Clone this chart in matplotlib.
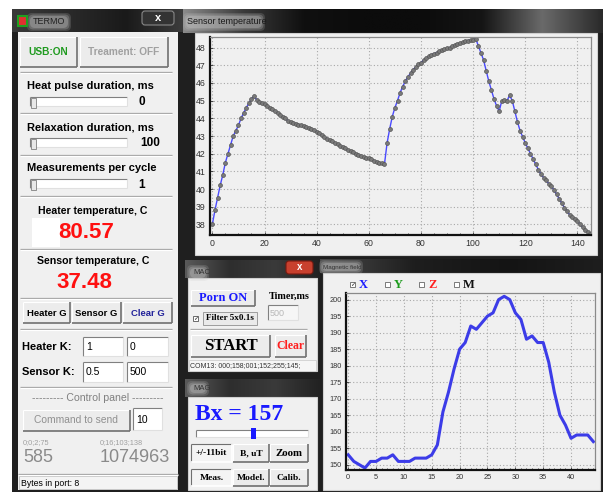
import matplotlib
matplotlib.use("Agg")
import numpy as np
import matplotlib.pyplot as plt
from matplotlib.patches import Rectangle, FancyBboxPatch
from matplotlib.colors import LinearSegmentedColormap
from matplotlib.ticker import MultipleLocator

W, H = 603, 492

# ---- chart data ----
sensor_temp = [38.0, 38.8, 39.5, 40.2, 40.8, 41.5, 42.0, 42.5, 43.0, 43.3,
               43.6, 44.0, 44.3, 44.6, 44.85, 45.1, 45.25, 45.05, 44.95, 44.85,
               44.8, 44.7, 44.6, 44.5, 44.4, 44.3, 44.2, 44.1, 44.0, 43.85,
               43.8, 43.75, 43.7, 43.65, 43.6, 43.55, 43.5, 43.45, 43.4, 43.35,
               43.25, 43.15, 43.05, 42.95, 42.85, 42.75, 42.7, 42.6, 42.55, 42.45,
               42.4, 42.3, 42.2, 42.15, 42.1, 42.0, 41.95, 41.85, 41.8, 41.75,
               41.75, 41.7, 41.6, 41.55, 41.5, 41.45, 41.4, 42.6, 43.4, 44.1,
               44.6, 45.0, 45.45, 45.8, 46.1, 46.35, 46.55, 46.75, 46.9, 47.05,
               47.15, 47.3, 47.4, 47.5, 47.6, 47.65, 47.72, 47.8, 47.85, 47.9,
               47.95, 48.0, 48.08, 48.15, 48.2, 48.25, 48.3, 48.35, 48.4, 48.42,
               48.45, 48.5, 48.1, 47.7, 47.3, 46.7, 46.1, 45.6, 45.1, 44.7,
               44.4, 45.0, 45.05, 45.0, 45.3, 45.0, 44.4, 43.8, 43.3, 42.95,
               42.6, 42.3, 42.0, 41.7, 41.4, 41.1, 40.85, 40.65, 40.5, 40.3,
               40.15, 39.95, 39.7, 39.45, 39.2, 38.95, 38.75, 38.55, 38.4, 38.3,
               38.2, 38.0, 37.85, 37.7, 37.55, 37.45]
sensor_x = list(range(len(sensor_temp)))
sensor_yticks = [38, 39, 40, 41, 42, 43, 44, 45, 46, 47, 48]
sensor_xticks = [0, 20, 40, 60, 80, 100, 120, 140]

mag_bx = [153, 151, 150, 149, 151, 151, 152, 152, 153, 151,
          151, 151, 152, 152, 152, 153, 156, 166, 172, 179,
          185, 187, 192, 191, 193, 195, 196, 200, 201, 200,
          196, 194, 188, 189, 187, 187, 181, 172, 165, 162,
          158, 159, 159, 159, 157]
mag_x = list(range(len(mag_bx)))
mag_yticks = [150, 155, 160, 165, 170, 175, 180, 185, 190, 195, 200]
mag_xticks = [0, 5, 10, 15, 20, 25, 30, 35, 40]
mag_channels = ["X", "Y", "Z", "M"]
mag_colors = ["#1a1aff", "#1a9a1a", "#ff2020", "#111111"]

SANS = "Liberation Sans"
SERIF = "Liberation Serif"
PANEL = "#f0f0f0"

fig = plt.figure(figsize=(W / 100, H / 100), dpi=100)
bg = fig.add_axes([0, 0, 1, 1])
bg.set_xlim(0, W)
bg.set_ylim(H, 0)
bg.axis("off")


def box(x0, y0, x1, y1, fc, ec="none", lw=0.8, z=1):
    bg.add_patch(Rectangle((x0, y0), x1 - x0, y1 - y0, fc=fc, ec=ec, lw=lw, zorder=z))


def line(x0, y0, x1, y1, c, lw=0.8, z=3):
    bg.plot([x0, x1], [y0, y1], color=c, lw=lw, zorder=z, solid_capstyle="butt")


def text(x, y, s, size, color="black", weight="normal", family=SANS, ha="left", va="center", z=5):
    bg.text(x, y, s, fontsize=size, color=color, fontweight=weight, family=family,
            ha=ha, va=va, zorder=z)


def button(x0, y0, x1, y1, pressed=False):
    box(x0, y0, x1, y1, "#f4f4f4" if pressed else "#ececec", z=2)
    hi, lo = ("#707070", "#ffffff") if pressed else ("#ffffff", "#707070")
    line(x0, y0, x1, y0, hi)
    line(x0, y0, x0, y1, hi)
    line(x0, y1, x1, y1, lo, lw=1.2)
    line(x1, y0, x1, y1, lo, lw=1.2)


def field(x0, y0, x1, y1, fc="white"):
    box(x0, y0, x1, y1, fc, z=2)
    line(x0, y0, x1, y0, "#808080")
    line(x0, y0, x0, y1, "#808080")
    line(x0, y1, x1, y1, "#e0e0e0")
    line(x1, y0, x1, y1, "#e0e0e0")


def sep(x0, x1, y):
    line(x0, y, x1, y, "#a0a0a0", lw=0.9)
    line(x0, y + 1.2, x1, y + 1.2, "#ffffff", lw=0.9)


def slider(x0, x1, y0, y1):
    field(x0, y0, x1, y1)
    box(x0 + 1, y0 + 1, x0 + 6, y1 + 2, "#e8e8e8", ec="#808080", lw=0.6, z=4)


def gradient(x0, x1, y0, y1, stops, z=1):
    cmap = LinearSegmentedColormap.from_list("g", stops)
    bg.imshow(np.linspace(0, 1, 256)[None, :], extent=(x0, x1, y1, y0), cmap=cmap,
              aspect="auto", zorder=z, interpolation="bilinear")


def glow(x0, y0, x1, y1):
    # soft light halo behind window titles
    for pad, a in [(3, 0.18), (1.5, 0.25), (0, 0.3)]:
        bg.add_patch(FancyBboxPatch((x0, y0), x1 - x0, y1 - y0,
                                    boxstyle=f"round,pad={pad},rounding_size=5",
                                    fc="#c8c8c8", ec="none", alpha=a, zorder=3))


# dark desktop / window frames
box(12, 9, W, H, "#1f1f1f", z=0)

# ================= TERMO window =================
gradient(12, 183, 9, 32, ["#3a3a3a", "#2a2a2a", "#1a1a1a", "#3c3c3c"])
glow(30, 16, 68, 28)
bg.add_patch(Rectangle((18, 16), 9, 10, fc="#e03030", ec="#20a020", lw=1.5, zorder=4))
text(33, 22, "TERMO", 6.5, color="#222222")
bg.add_patch(FancyBboxPatch((142, 11), 32, 14, boxstyle="round,pad=0,rounding_size=3",
                            fc="#333333", ec="#888888", lw=0.8, zorder=3))
text(158, 18, "x", 8, color="white", weight="bold", ha="center")

box(18, 32, 178, 490, PANEL, z=1)
button(20, 37, 77, 67)
button(80, 37, 168, 67)
text(48.5, 52, "USB:ON", 7.3, color="#1f9a1f", weight="bold", ha="center")
text(124, 52, "Treament: OFF", 7.3, color="#a0a0a0", weight="bold", ha="center")

sep(20, 172, 72)
text(27, 86, "Heat pulse duration, ms", 8, weight="bold")
slider(30, 127, 97, 106)
text(142, 102, "0", 8.5, weight="bold", ha="center")
sep(20, 172, 113)
text(27, 127, "Relaxation duration, ms", 8, weight="bold")
slider(30, 127, 138, 147)
text(160, 143, "100", 8.5, weight="bold", ha="right")
sep(20, 172, 155)
text(27, 168, "Measurements per cycle", 8, weight="bold")
slider(30, 127, 179, 188)
text(142, 185, "1", 8.5, weight="bold", ha="center")
sep(20, 172, 196)

text(93, 211, "Heater temperature, C", 7.6, weight="bold", ha="center")
box(32, 218, 60, 247, "white", z=1.5)
text(86, 232, "80.57", 16, color="#ff1010", weight="bold", ha="center")
sep(20, 172, 249)
text(93, 261, "Sensor temperature, C", 7.6, weight="bold", ha="center")
text(84, 283, "37.48", 16, color="#ff1010", weight="bold", ha="center")
sep(20, 172, 298)

for (x0, x1), lab, col in zip([(23, 70), (72, 121), (123, 172)],
                              ["Heater G", "Sensor G", "Clear G"],
                              ["black", "black", "#22229a"]):
    button(x0, 302, x1, 323)
    text((x0 + x1) / 2, 313, lab, 6.8, color=col, weight="bold", ha="center")
sep(20, 172, 329)

text(22, 347, "Heater K:", 8, weight="bold")
field(83, 337, 123, 356)
field(127, 337, 168, 356)
text(86, 347, "1", 7.5)
text(130, 347, "0", 7.5)
text(22, 372, "Sensor K:", 8, weight="bold")
field(83, 362, 123, 382)
field(127, 362, 168, 382)
text(86, 372, "0.5", 7.5)
text(130, 372, "500", 7.5)
sep(20, 172, 387)

text(98, 398, "--------- Control panel ---------", 7.6, color="#808080", ha="center")
button(23, 410, 130, 431)
text(76, 420, "Command to send", 7.4, color="#909090", ha="center")
field(133, 408, 162, 430)
text(136, 420, "10", 7.5)
text(23, 443, "0;0;2;75", 5.3, color="#a0a0a0")
text(100, 443, "0;16;103;138", 5.3, color="#a0a0a0")
text(23, 458, "585", 13, color="#8a8a8a")
text(100, 458, "1074963", 13, color="#8a8a8a")
sep(18, 178, 474)
box(19, 476, 177, 489, "#f4f4f4", ec="#c0c0c0", lw=0.6, z=2)
text(21, 483, "Bytes in port: 8", 6.3)

# ================= Sensor temperature window =================
gradient(183, W, 9, 33, ["#8a8a8a", "#3a3a3a", "#101010", "#0c0c0c", "#0c0c0c",
                         "#151515", "#6a6a6a", "#2a2a2a"])
glow(186, 16, 262, 28)
text(187, 22, "Sensor temperature", 6.5, color="#1a1a1a")
box(195, 33, 597, 255, PANEL, ec="#d0d0d0", lw=0.8, z=1)

# ================= MAC window =================
gradient(185, 320, 260, 278, ["#5a5a5a", "#2e2e2e", "#3a3a3a", "#222222"])
glow(190, 268, 206, 278)
text(193, 273, "MAC", 5.5, color="#333333")
bg.add_patch(FancyBboxPatch((286, 261), 27, 13, boxstyle="round,pad=0,rounding_size=3",
                            fc="#c8402e", ec="#7a1a10", lw=0.8, zorder=3))
text(299.5, 267, "x", 7, color="white", weight="bold", ha="center")
box(188, 278, 317, 371, PANEL, ec="#d0d0d0", z=1)
button(191, 290, 255, 306)
text(223, 298, "Porn ON", 9, color="#1a1aff", weight="bold", family=SERIF, ha="center")
text(289, 296, "Timer,ms", 7.3, weight="bold", family=SERIF, ha="center")
field(268, 305, 298, 320, fc="#f6f6f6")
text(270, 313, "500", 6.5, color="#b8b8b8")
box(193, 316, 198, 321, "white", ec="#555555", lw=0.6, z=3)
text(195.5, 318.5, "✓", 4.5, color="#222222", ha="center", family="DejaVu Sans")
box(203, 312, 257, 325, "#eaeaea", ec="#909090", lw=0.6, z=2)
text(206, 318.5, "Filter 5x0.1s", 6.6, weight="bold", family=SERIF)
sep(190, 307, 329)
button(191, 335, 270, 357)
text(230.5, 346, "START", 12, weight="bold", family=SERIF, ha="center")
button(275, 335, 306, 357)
text(290.5, 346, "Clear", 8.5, color="#ff2020", weight="bold", family=SERIF, ha="center")
box(189, 360, 316, 371, "#f6f6f6", ec="#c8c8c8", lw=0.5, z=2)
text(190, 366, "COM13: 000;158;001;152;255;145;", 5.0, color="#333333")

# ================= MAG window =================
gradient(185, 320, 379, 397, ["#5a5a5a", "#2e2e2e", "#3a3a3a", "#222222"])
glow(190, 384, 206, 393)
text(193, 388, "MAG", 5.5, color="#333333")
box(188, 397, 317, 490, PANEL, ec="#d0d0d0", z=1)
text(195, 415, "Bx = 157", 17, color="#1a1aff", weight="bold", family=SERIF)
field(196, 430, 308, 437)
box(251, 428, 256, 439, "#1a1aff", z=4)
for row, (y0, y1) in enumerate([(444, 462), (469, 486)]):
    labs = ["+/-11bit", "B, uT", "Zoom"] if row == 0 else ["Meas.", "Model.", "Calib."]
    for i, ((x0, x1), lab) in enumerate(zip([(191, 232), (233, 269), (270, 308)], labs)):
        button(x0, y0, x1, y1, pressed=(i == 0))
        text((x0 + x1) / 2, (y0 + y1) / 2, lab, 6.8 if lab != "Zoom" else 7.8,
             weight="bold", family=SERIF, ha="center")

# ================= Magnetic field window =================
gradient(320, W, 259, 273, ["#4a4a4a", "#1e1e1e", "#141414", "#1e1e1e"])
glow(322, 263, 360, 271)
text(323, 267, "Magnetic field", 4.5, color="#333333")
box(323, 273, 600, 490, PANEL, ec="#d0d0d0", z=1)
for i, (ch, col) in enumerate(zip(mag_channels, mag_colors)):
    bx = 350 + i * 34.5
    box(bx, 282, bx + 5, 287, "white", ec="#666666", lw=0.6, z=3)
    if i == 0:
        text(bx + 2.5, 284.5, "✓", 4.5, color="#222222", ha="center", family="DejaVu Sans")
    text(bx + 9, 285, ch, 9, color=col, weight="bold", family=SERIF)


def style_axes(ax, xticks, yticks, fs):
    ax.set_facecolor(PANEL)
    ax.set_xticks(xticks)
    ax.set_yticks(yticks)
    ax.tick_params(which="both", direction="in", length=2.5, width=0.6, color="#333333",
                   labelsize=fs, labelcolor="#333333", pad=3)
    ax.tick_params(which="minor", length=1.5)
    ax.grid(True, which="major", color="#a8a8a8", lw=0.8, ls=(0, (1, 2)))
    for s in ["left", "bottom"]:
        ax.spines[s].set_color("#111111")
        ax.spines[s].set_linewidth(1.6)
    for s in ["top", "right"]:
        ax.spines[s].set_color("#8a8a8a")
        ax.spines[s].set_linewidth(0.9)
    for lab in ax.get_xticklabels() + ax.get_yticklabels():
        lab.set_family(SANS)


def px_axes(x0, y0, x1, y1):
    return fig.add_axes([x0 / W, 1 - y1 / H, (x1 - x0) / W, (y1 - y0) / H])


ax1 = px_axes(210, 37, 591, 235)
ax1.plot(sensor_x, sensor_temp, color="#4a4aff", lw=1.0, marker="o", ms=2.8,
         mfc="#7a7a7a", mec="#555555", mew=0.5)
ax1.set_xlim(-0.9, 145.2)
ax1.set_ylim(37.4, 48.6)
style_axes(ax1, sensor_xticks, sensor_yticks, 6.3)
ax1.xaxis.set_minor_locator(MultipleLocator(5))

ax2 = px_axes(346, 293, 595, 470)
ax2.plot(mag_x, mag_bx, color="#3c3ce8", lw=2.2)
ax2.set_xlim(-0.4, 44.3)
ax2.set_ylim(148.4, 202.0)
style_axes(ax2, mag_xticks, mag_yticks, 5.3)
ax2.xaxis.set_minor_locator(MultipleLocator(1))

bg.set_xlim(0, W)
bg.set_ylim(H, 0)
fig.savefig("out.png", dpi=100)
